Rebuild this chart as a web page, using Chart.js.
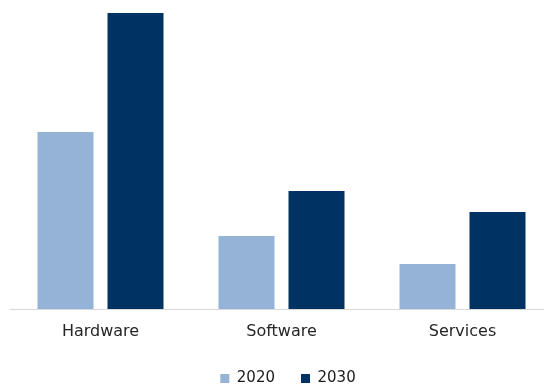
<!DOCTYPE html>
<html>
<head>
<meta charset="utf-8">
<script src="https://cdn.jsdelivr.net/npm/chart.js@4/dist/chart.umd.min.js"></script>
<style>
  html, body { margin: 0; padding: 0; background: #ffffff; overflow: hidden; }
  #wrap { width: 544px; height: 385px; overflow: hidden; position: relative; }
  canvas { position: absolute; left: 0; top: 0; }
</style>
</head>
<body>
<div id="wrap"><canvas id="chart" width="576" height="396"></canvas></div>
<script>
// Segments and the two forecast years
const categories = ['Hardware', 'Software', 'Services'];
const seriesLabels = ['2020', '2030'];
const values2020 = [17.7, 7.3, 4.5];
const values2030 = [29.6, 11.8, 9.7];
const colors = ['#95b3d7', '#003263'];

Chart.defaults.font.family = "'DejaVu Sans', Verdana, sans-serif";
Chart.defaults.color = '#262626';

new Chart(document.getElementById('chart'), {
  type: 'bar',
  data: {
    labels: categories,
    datasets: [
      { label: seriesLabels[0], data: values2020, backgroundColor: colors[0] },
      { label: seriesLabels[1], data: values2030, backgroundColor: colors[1] }
    ]
  },
  options: {
    responsive: false,
    animation: false,
    devicePixelRatio: 1,
    layout: { padding: { left: 10, right: 10, top: 0, bottom: 0 } },
    datasets: {
      bar: { categoryPercentage: 0.7735, barPercentage: 0.8, borderWidth: 0 }
    },
    plugins: {
      tooltip: { enabled: false },
      legend: {
        position: 'bottom',
        labels: {
          boxWidth: 9,
          boxHeight: 9,
          padding: 26,
          color: '#1a1a1a',
          font: { size: 15 }
        }
      }
    },
    scales: {
      x: {
        grid: { display: false },
        border: { display: true, color: '#d9d9d9', width: 1 },
        ticks: { padding: 5, font: { size: 16 }, color: '#262626' },
        afterFit: (axis) => { axis.height = 36; }
      },
      y: {
        position: 'right',
        min: 0,
        max: 30.9,
        grid: { display: false },
        border: { display: false },
        ticks: { display: false },
        afterFit: (axis) => { axis.width = 13; }
      }
    }
  }
});
</script>
</body>
</html>
